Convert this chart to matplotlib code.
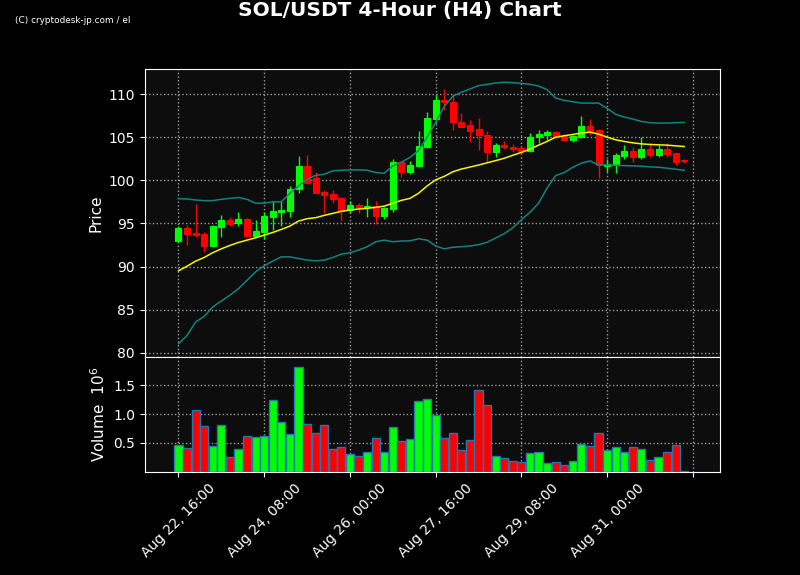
import matplotlib
matplotlib.use("Agg")
import matplotlib.pyplot as plt
import numpy as np
import pandas as pd

# 4h candles, SOL/USDT
opens = [92.95, 94.46, 93.92, 93.76, 92.36, 94.57, 95.35, 95.04, 95.54, 93.53,
         93.99, 95.78, 96.32, 96.47, 98.95, 101.67, 100.27, 98.64, 98.41, 97.95,
         96.55, 97.17, 96.94, 96.98, 95.89, 96.71, 102.13, 101.0, 101.7, 103.91,
         107.16, 109.34, 109.1, 106.81, 106.35, 105.89, 105.27, 103.33, 104.1, 103.88,
         103.76, 103.41, 104.96, 105.27, 105.62, 105.08, 104.69, 105.0, 106.32, 105.85,
         101.67, 101.78, 102.87, 103.41, 102.75, 103.64, 102.95, 103.64, 103.14, 102.33]
highs = [94.7, 94.8, 97.21, 94.03, 94.77, 95.97, 95.7, 96.28, 95.62, 95.43,
         96.28, 97.6, 97.6, 99.3, 102.83, 102.98, 101.0, 98.88, 98.84, 98.1,
         97.6, 97.4, 97.9, 97.56, 96.94, 102.44, 102.2, 102.25, 105.74, 107.95,
         109.92, 110.58, 110.03, 107.78, 107.0, 107.17, 105.7, 104.37, 104.57, 104.2,
         103.84, 105.47, 105.85, 105.78, 105.66, 105.35, 105.27, 107.48, 107.1, 105.93,
         102.52, 103.14, 104.1, 103.8, 105.0, 104.3, 104.1, 104.3, 103.14, 102.48]
lows = [92.9, 92.55, 93.37, 91.67, 92.3, 93.37, 94.73, 94.73, 93.45, 93.37,
        93.18, 94.26, 94.73, 95.7, 98.49, 99.53, 98.49, 96.16, 97.4, 95.3,
        96.24, 96.24, 95.78, 94.88, 95.47, 96.28, 100.43, 100.7, 101.51, 103.72,
        106.63, 108.17, 105.77, 106.12, 104.49, 103.52, 102.16, 102.75, 103.6, 103.26,
        103.06, 103.22, 104.3, 104.69, 104.88, 104.6, 104.38, 104.9, 105.27, 100.23,
        101.0, 100.81, 102.44, 102.13, 102.44, 102.75, 102.67, 102.75, 101.74, 102.05]
closes = [94.45, 93.8, 93.68, 92.4, 94.69, 95.35, 94.92, 95.54, 93.57, 94.11,
          95.85, 96.43, 96.55, 98.99, 101.67, 99.65, 98.57, 98.29, 97.83, 96.47,
          97.13, 96.94, 97.05, 95.89, 96.78, 102.17, 101.0, 101.78, 104.03, 107.25,
          109.34, 109.02, 106.81, 106.2, 105.73, 105.19, 103.33, 104.1, 103.8, 103.64,
          103.41, 105.0, 105.39, 105.62, 105.0, 104.69, 105.16, 106.32, 105.66, 101.78,
          101.9, 102.95, 103.41, 102.71, 103.6, 102.95, 103.64, 103.1, 102.17, 102.25]
volumes = [0.466, 0.414, 1.069, 0.793, 0.448, 0.81, 0.259, 0.397, 0.62, 0.603,
           0.62, 1.241, 0.862, 0.655, 1.81, 0.828, 0.672, 0.81, 0.397, 0.431,
           0.31, 0.276, 0.345, 0.586, 0.345, 0.776, 0.534, 0.569, 1.224, 1.259,
           0.989, 0.586, 0.672, 0.379, 0.552, 1.414, 1.155, 0.276, 0.241, 0.19,
           0.178, 0.328, 0.345, 0.155, 0.172, 0.121, 0.19, 0.483, 0.448, 0.672,
           0.379, 0.431, 0.345, 0.431, 0.397, 0.207, 0.259, 0.345, 0.466, 0.017]

# bollinger bands (20, 2) as drawn
bb_mid = [89.5, 90.04, 90.62, 91.05, 91.6, 92.05, 92.44, 92.79, 93.06, 93.33,
          93.64, 93.95, 94.3, 94.69, 95.27, 95.54, 95.66, 95.93, 96.16, 96.4,
          96.55, 96.67, 96.74, 96.86, 97.0, 97.33, 97.67, 97.9, 98.49, 99.34,
          100.05, 100.45, 100.98, 101.3, 101.53, 101.76, 102.02, 102.28, 102.55, 102.9,
          103.23, 103.6, 104.07, 104.5, 105.0, 105.16, 105.31, 105.47, 105.58, 105.35,
          105.0, 104.69, 104.5, 104.34, 104.22, 104.15, 104.11, 104.07, 103.99, 103.91]
bb_upper = [97.87, 97.83, 97.71, 97.64, 97.64, 97.79, 97.9, 98.0, 97.79, 97.33,
            97.36, 97.48, 97.52, 98.49, 99.34, 100.1, 100.57, 100.7, 101.09, 101.16,
            101.2, 101.2, 101.16, 100.9, 100.81, 101.67, 102.1, 102.64, 103.45, 105.0,
            106.7, 108.57, 109.73, 110.2, 110.58, 110.97, 111.12, 111.28, 111.36, 111.32,
            111.24, 111.12, 110.93, 110.5, 109.53, 109.26, 109.1, 108.95, 108.95, 108.95,
            108.33, 107.64, 107.33, 107.1, 106.82, 106.67, 106.63, 106.63, 106.67, 106.71]
bb_lower = [81.05, 82.0, 83.57, 84.22, 85.31, 86.0, 86.67, 87.44, 88.41, 89.38,
            90.08, 90.62, 91.12, 91.12, 90.93, 90.74, 90.66, 90.74, 91.05, 91.43,
            91.59, 91.9, 92.29, 92.87, 93.06, 92.87, 92.95, 92.98, 93.22, 93.06,
            92.38, 92.05, 92.23, 92.3, 92.38, 92.53, 92.81, 93.31, 93.8, 94.5,
            95.42, 96.28, 97.33, 99.1, 100.55, 100.89, 101.51, 101.98, 102.25, 101.78,
            101.78, 101.74, 101.7, 101.67, 101.63, 101.55, 101.51, 101.4, 101.28, 101.16]

dates = pd.date_range("2024-08-22 16:00", periods=len(closes), freq="4h")

up_col = "#00ff00"
down_col = "#ff0000"
bg = "#0d0d0d"

fig = plt.figure(figsize=(8, 5.75), dpi=100, facecolor="black")
ax = fig.add_axes([0.181, 0.379, 0.719, 0.501], facecolor=bg)
axv = fig.add_axes([0.181, 0.18, 0.719, 0.199], facecolor=bg, sharex=ax)

x = np.arange(len(closes))
o = np.array(opens)
c = np.array(closes)
cols = [up_col if cc >= oo else down_col for oo, cc in zip(o, c)]

ax.vlines(x, lows, highs, colors=cols, linewidth=1, zorder=2)
ax.bar(x, np.abs(c - o), bottom=np.minimum(o, c), width=0.7, color=cols,
       edgecolor=cols, linewidth=0.8, zorder=3)

ax.plot(x, bb_upper, color="#128383", lw=1.1, zorder=4)
ax.plot(x, bb_lower, color="#128383", lw=1.1, zorder=4)
ax.plot(x, bb_mid, color="#f5f500", lw=1.1, zorder=4)

axv.bar(x, volumes, width=0.95, color=cols, edgecolor="#1f77b4", linewidth=1, zorder=3)

ax.set_xlim(-3.93, 63.17)
ax.set_ylim(79.5, 112.9)
axv.set_ylim(0.005, 1.99)

ticks = np.arange(0, 61, 10)
labels = [dates[t].strftime("%b %d, %H:%M") if t < len(dates) else "" for t in ticks]
axv.set_xticks(ticks)
axv.set_xticklabels(labels, rotation=45)
ax.tick_params(labelbottom=False)
ax.set_yticks([80, 85, 90, 95, 100, 105, 110])
axv.set_yticks([0.5, 1.0, 1.5])
axv.set_yticklabels(["0.5", "1.0", "1.5"])

for a in (ax, axv):
    a.grid(True, color="#9a9a9a", linestyle=":", linewidth=1)
    a.set_axisbelow(True)
    a.tick_params(colors="white", labelsize=10)
    for s in a.spines.values():
        s.set_color("white")

ax.set_ylabel("Price", color="white", fontsize=11)
axv.set_ylabel("Volume  $10^{6}$", color="white", fontsize=11)

fig.suptitle("SOL/USDT 4-Hour (H4) Chart", color="white", fontsize=14.5,
             fontweight="bold", y=0.981, va="center")
fig.text(0.019, 0.964, "(C) cryptodesk-jp.com / el", color="white", fontsize=6.4,
         va="center")

fig.savefig("out.png", dpi=100, facecolor="black")
